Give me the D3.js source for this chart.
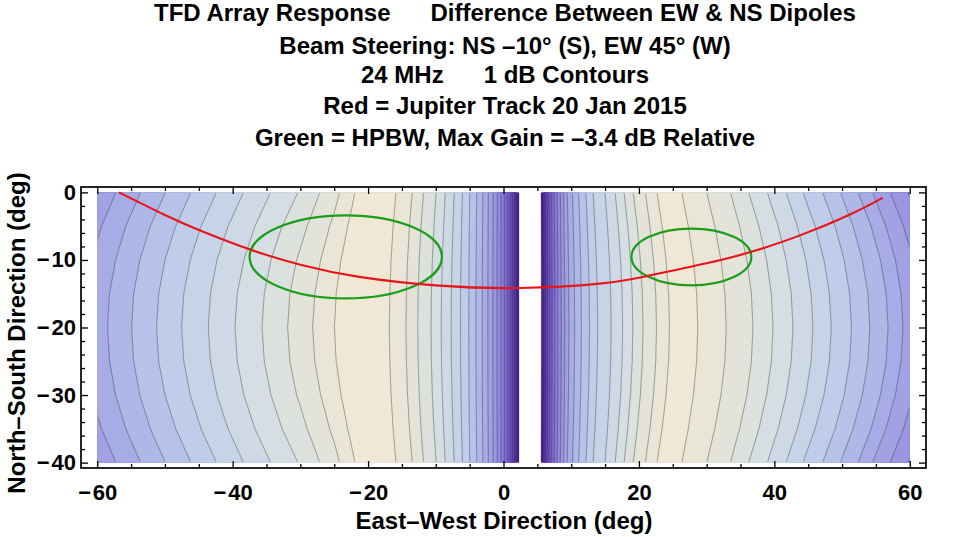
<!DOCTYPE html>
<html><head><meta charset="utf-8">
<script src="https://cdn.jsdelivr.net/npm/d3@7"></script>
<style>
body{margin:0;background:#fff}
text{font-family:"Liberation Sans",Arial,sans-serif;font-weight:bold;fill:#000}
</style>
</head><body>
<svg id="chart" width="963" height="537"></svg>
<script>
// ---------------- data ----------------
const titleLines = [
  "TFD Array Response      Difference Between EW & NS Dipoles",
  "Beam Steering: NS \u201310\u00b0 (S), EW 45\u00b0 (W)",
  "24 MHz      1 dB Contours",
  "Red = Jupiter Track 20 Jan 2015",
  "Green = HPBW, Max Gain = \u20133.4 dB Relative"
];
const xLabel = "East\u2013West Direction (deg)";
const yLabel = "North\u2013South Direction (deg)";
const xTicks = [-60, -40, -20, 0, 20, 40, 60];
const yTicks = [0, -10, -20, -30, -40];

const ewPos = [-62.0,-58.48,-54.93,-51.24,-47.54,-43.6,-39.65,-35.66,-31.88,-28.18,-24.98,-22.9,-20.8,-18.8,
  -16.85,-14.4,-12.67,-10.7,-9.2,-7.73,-6.36,-5.13,-4.07,-3.14,-2.31,-1.58,-0.94,-0.38,0.12,0.56,0.95,1.29,1.59,1.86,2.09,2.30,
  3.85,
  5.57,5.76,5.98,6.22,6.5,6.82,7.18,7.58,8.03,8.53,9.05,9.65,10.5,11.5,12.7,13.9,15.9,17.6,19.1,20.6,22.6,24.5,
  25.5,26.6,27.7,28.7,32.9,36.84,39.8,42.75,45.7,48.4,51.4,54.1,56.8,59.0,61.6];
const ewDb = [-14,-13,-12,-11,-10,-9,-8,-7,-6,-5,-4,-3.55,-3.4,-3.55,
  -4,-5,-6,-7,-8,-9,-10,-11,-12,-13,-14,-15,-16,-17,-18,-19,-20,-21,-22,-23,-24,-25,
  -40,
  -25,-24,-23,-22,-21,-20,-19,-18,-17,-16,-15,-14,-13,-12,-11,-10,-9,-8,-7,-6,-5,-4,
  -3.84,-3.8,-3.84,-4,-5,-6,-7,-8,-9,-10,-11,-12,-13,-14,-15];
// EW displacement of the contours at NS = 0 and -40 deg relative to NS = -20 deg
const shiftPos = [-62, -50, -40, -30, -25, -20, -16.85, -12.7, -10, -7.7, -5, 0, 3.85, 8, 12, 18, 24, 28, 35, 45, 55, 62];
const shiftDeg = [4.6, 5.0, 5.2, 5.3, 4.3, 2.2, 1.0, 0.9, 0.75, 0.5, 0.15, 0, 0, -0.1, -0.5, -1.3, -2.0, -2.6, -3.5, -4.2, -4.5, -4.5];
// how far each NS row carries that displacement (0 at NS = -20, 1 at the edges)
const nsPos  = [0, -5, -10, -15, -20, -25, -30, -35, -40];
const nsBend = [1, 0.5625, 0.25, 0.0625, 0, 0.0625, 0.25, 0.5625, 1];

const contourLevels = [-25,-24,-23,-22,-21,-20,-19,-18,-17,-16,-15,-14,-13,-12,-11,-10,-9,-8,-7,-6,-5,-4];

// colour function (dB -> colour)
const colorDb  = [-25, -22, -19, -16, -13, -10, -7, -5, -3.4];
const colorHex = ["#481a8e", "#5f3cb8", "#7b66d3", "#9890e0", "#abb2e7", "#c3d2ea", "#d9e0e0", "#e6e4d8", "#f1e8d4"];

// Jupiter track
const trackEW = [-56.8, -50, -44.9, -37.3, -30, -21.3, -9.5, 2.4, 14.2, 21.1, 30, 36.6, 43.7, 51.1, 56.0];
const trackNS = [0, -3.35, -5.6, -8.5, -10.7, -12.5, -13.8, -14.15, -13.5, -12.4, -10.5, -8.8, -6.4, -3.3, -0.8];

// HPBW ellipses
const hpbwCx = [-23.3, 27.75];
const hpbwCy = [-9.55, -9.55];
const hpbwRx = [14.2, 8.85];
const hpbwRy = [6.15, 4.2];

// ---------------- chart ----------------
const svg = d3.select("#chart");
const x = d3.scaleLinear().domain([-62.4, 62.4]).range([81, 926]);
const y = d3.scaleLinear().domain([0.8, -40.8]).range([187, 468]);

const defs = svg.append("defs");
const gx0 = x(-60), gx1 = x(60), gy0 = y(0), gy1 = y(-40);
defs.append("clipPath").attr("id","dataClip").append("rect")
  .attr("x", gx0).attr("y", gy0).attr("width", gx1-gx0).attr("height", gy1-gy0);
defs.append("clipPath").attr("id","lineClip").append("rect")
  .attr("x", gx0+0.8).attr("y", gy0+0.8).attr("width", gx1-gx0-1.6).attr("height", gy1-gy0-1.6);
defs.append("clipPath").attr("id","frameClip").append("rect")
  .attr("x", x(-62.4)).attr("y", y(0.8)).attr("width", x(62.4)-x(-62.4)).attr("height", y(-40.8)-y(0.8));

// field grid
const ewScale = d3.scaleLinear().domain(ewPos).range(ewDb);
const shiftScale = d3.scaleLinear().domain(shiftPos).range(shiftDeg);
const bendScale = d3.scaleLinear().domain(nsPos).range(nsBend);
const sx = 0.5, sy = 1;
const nx = Math.ceil((gx1-gx0)/sx)+1, ny = Math.ceil((gy1-gy0)/sy)+1;
const values = new Float64Array(nx*ny);
const colX = new Float64Array(nx), colS = new Float64Array(nx);
for (let i=0;i<nx;i++) { colX[i] = Math.min(60, x.invert(gx0+i*sx)); colS[i] = shiftScale(colX[i]); }
for (let j=0;j<ny;j++) {
  const b = bendScale(Math.max(-40, y.invert(gy0+j*sy)));
  for (let i=0;i<nx;i++) values[j*nx+i] = ewScale(colX[i] - colS[i]*b);
}
const contours = d3.contours().size([nx, ny]).thresholds(contourLevels)(values);
const proj = d3.geoTransform({point(px, py){ this.stream.point(gx0 + (px-0.5)*sx, gy0 + (py-0.5)*sy); }});
const path = d3.geoPath(proj);
const color = d3.scaleLinear().domain(colorDb).range(colorHex).interpolate(d3.interpolateRgb).clamp(true);

svg.append("g").attr("clip-path","url(#dataClip)")
  .selectAll("path").data(contours).join("path")
  .attr("d", path)
  .attr("fill", d => color(d.value + 0.5))
  .attr("stroke", d => color(d.value + 0.5)).attr("stroke-width", 0.3);

svg.append("g").attr("clip-path","url(#lineClip)")
  .selectAll("path").data(contours.filter(c => c.value > -25)).join("path")
  .attr("d", path)
  .attr("fill", "none")
  .attr("stroke", "rgba(40,40,40,0.5)")
  .attr("stroke-width", 0.8);

// HPBW ellipses
const gOver = svg.append("g").attr("clip-path","url(#frameClip)");
gOver.selectAll("ellipse").data(hpbwCx.map((c,i)=>i)).join("ellipse")
  .attr("cx", i => x(hpbwCx[i])).attr("cy", i => y(hpbwCy[i]))
  .attr("rx", i => x(hpbwCx[i]+hpbwRx[i]) - x(hpbwCx[i]))
  .attr("ry", i => y(hpbwCy[i]-hpbwRy[i]) - y(hpbwCy[i]))
  .attr("fill","none").attr("stroke","#1a9e1a").attr("stroke-width",2.2);

// Jupiter track
gOver.append("path")
  .datum(trackEW.map((v,i)=>[v, trackNS[i]]))
  .attr("d", d3.line().x(d=>x(d[0])).y(d=>y(d[1])).curve(d3.curveNatural))
  .attr("fill","none").attr("stroke","#e8141a").attr("stroke-width",2.1);

// frame ticks
const majX = xTicks, minX = d3.range(-60, 61, 5).filter(v => v % 20 !== 0);
const majY = yTicks, minY = d3.range(-40, 1, 2).filter(v => v % 10 !== 0);
function axis(gen, scale, vals, size, fmt, transform, pad) {
  const a = gen(scale).tickValues(vals).tickSize(-size).tickPadding(pad||0).tickFormat(fmt);
  const g = svg.append("g").attr("transform", transform).call(a);
  g.select(".domain").remove();
  g.selectAll(".tick line").attr("stroke","#000").attr("stroke-width",1.3);
  g.selectAll("text").style("font-size","22px").attr("fill","#000");
  return g;
}
const minus = v => (v < 0 ? "\u2212\u200a" + Math.abs(v) : String(v));
const fb = y(-40.8), ft = y(0.8), fl = x(-62.4), fr = x(62.4);
axis(d3.axisBottom, x, majX, 7, minus, `translate(0,${fb})`, 16);
axis(d3.axisBottom, x, minX, 4, "", `translate(0,${fb})`);
axis(d3.axisTop, x, majX, 7, "", `translate(0,${ft})`);
axis(d3.axisTop, x, minX, 4, "", `translate(0,${ft})`);
axis(d3.axisLeft, y, majY, 7, minus, `translate(${fl},0)`, 5);
axis(d3.axisLeft, y, minY, 4, "", `translate(${fl},0)`);
axis(d3.axisRight, y, majY, 7, "", `translate(${fr},0)`);
axis(d3.axisRight, y, minY, 4, "", `translate(${fr},0)`);

// frame
svg.append("rect").attr("x", fl).attr("y", ft).attr("width", fr-fl).attr("height", fb-ft)
  .attr("fill","none").attr("stroke","#000").attr("stroke-width",1.7);

// titles
const titleY = [20.5, 54, 82.5, 114, 146];
svg.append("g").selectAll("text").data(titleLines).join("text")
  .attr("x", 505).attr("y", (d,i)=>titleY[i]).attr("text-anchor","middle")
  .style("font-size","24px").style("white-space","pre").attr("xml:space","preserve")
  .text(d=>d);

svg.append("text").attr("x", 504).attr("y", 529).attr("text-anchor","middle")
  .style("font-size","24px").text(xLabel);
svg.append("text").attr("transform","translate(25,333) rotate(-90)").attr("text-anchor","middle")
  .style("font-size","24px").text(yLabel);
</script>
</body></html>
